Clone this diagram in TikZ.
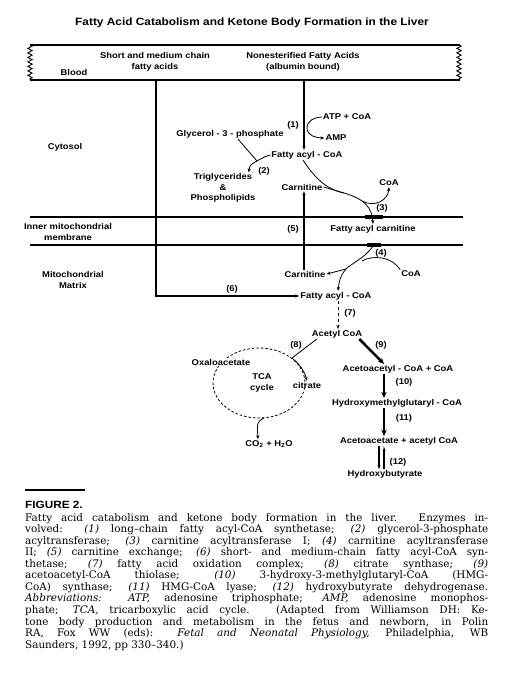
\documentclass[tikz,border=0pt]{standalone}
\usepackage{fontspec}
\setmainfont{DejaVu Serif}
\newfontfamily\lab{Liberation Sans}[FakeStretch=1.12]
\usetikzlibrary{arrows.meta,decorations.pathmorphing,calc}
\newcommand{\capline}[1]{\makebox[463pt][s]{#1}\\}
\begin{document}
\begin{tikzpicture}[x=1pt,y=-1pt,
  lbl/.style={font=\lab\bfseries\fontsize{8.4}{10.5}\selectfont, inner sep=1pt, align=center},
  titlefont/.style={font=\lab\bfseries\fontsize{10.6}{12}\selectfont, inner sep=0pt},
  band/.style={line width=1.2pt},
  mem/.style={line width=1.3pt},
  main/.style={line width=1.3pt},
  thinl/.style={line width=0.8pt},
  heavyl/.style={line width=2.6pt},
  arr/.style={-{Stealth[length=4pt,width=3.2pt]}},
  harr/.style={-{Stealth[length=6pt,width=5.5pt]}},
  wave/.style={line width=0.9pt, decorate, decoration={zigzag,segment length=4.5pt,amplitude=2.2pt}}]
\useasboundingbox (0,0) rectangle (513,694);
\fill[white] (0,0) rectangle (513,694);

\node[titlefont] (title) at (252,23) {Fatty Acid Catabolism and Ketone Body Formation in the Liver};

% blood band
\draw[band] (30,45) -- (460,45);
\draw[band] (30,80) -- (460,80);
\draw[wave] (30,45) -- (30,80);
\draw[wave] (459,45) -- (459,80);
\node[lbl] (blood) at (74,72) {Blood};
\node[lbl] (sm) at (155,62) {Short and medium chain\\fatty acids};
\node[lbl] (nefa) at (303,62) {Nonesterified Fatty Acids\\(albumin bound)};
\coordinate (smtop) at (156,80);
\coordinate (nefatop) at (304,80);

% cytosol
\node[lbl] (cyt) at (65,147) {Cytosol};
\node[lbl] (fa1) at (307,155) {Fatty acyl - CoA};
\draw[main,arr] (nefatop) -- (nefatop |- fa1.north);
\node[lbl] (n1) at (293,125) {(1)};
\node[lbl] (atp) at (347,117) {ATP + CoA};
\node[lbl] (amp) at (336,138) {AMP};
\draw[thinl,arr] (atp.west) to[out=180,in=90] (307,128) to[out=-90,in=180] (amp.west);

\node[lbl] (gly) at (230,134) {Glycerol - 3 - phosphate};
\node[lbl] (tri) at (223,188) {Triglycerides\\\&\\Phospholipids};
\coordinate (j2) at (257,161);
\draw[thinl] ([xshift=8pt]gly.south) -- (j2);
\draw[thinl,arr] (fa1.west) .. controls (264,157) .. (j2) .. controls (250,165) .. ([xshift=-8pt]tri.north east);
\node[lbl] (n2) at (264,171) {(2)};

\node[lbl] (carc) at (302,187) {Carnitine};
\node[lbl] (fac) at (373,229) {Fatty acyl carnitine};
\coordinate (j3a) at (344,193);
\coordinate (j3b) at (362,201);
\draw[thinl,arr] ([xshift=-4pt]fa1.south) .. controls (318,183) and (330,190) .. (j3a) .. controls (365,199) and (372,208) .. (fac.north);
\draw[thinl] (carc.east) -- (j3a);
\node[lbl] (coa3) at (389,183) {CoA};
\draw[thinl,arr] (j3b) .. controls (375,208) and (388,200) .. (coa3.south);
\node[lbl] (n3) at (382,208) {(3)};

% membranes
\draw[mem] (30,217) -- (463,217);
\draw[mem] (30,245) -- (463,245);
\draw[line width=3.2pt] (365,217) -- (383,217);
\draw[line width=3.2pt] (367,245) -- (381,245);
\node[lbl] (inner) at (68,232) {Inner mitochondrial\\membrane};
\node[lbl] (n5) at (293,229) {(5)};
\node[lbl] (carm) at (305,274) {Carnitine};
\draw[heavyl,arr] (carm.north -| nefatop) -- (nefatop |- carc.south);

% matrix
\node[lbl] (mito) at (73,280) {Mitochondrial\\Matrix};
\node[lbl] (fa2) at (336,296) {Fatty acyl - CoA};
\draw[main,arr] (smtop) |- (fa2.west);
\node[lbl] (n6) at (232,289) {(6)};
\coordinate (j4top) at (373,246);
\coordinate (j4) at (346,269);
\coordinate (j4b) at (362,261);
\draw[thinl,arr] (j4top) .. controls (365,258) and (352,263) .. (j4) .. controls (340,276) and (339,282) .. ([xshift=2pt]fa2.north);
\draw[thinl,arr] (j4) -- (carm.east);
\node[lbl] (coa4) at (411,274) {CoA};
\draw[thinl] (j4b) .. controls (372,255) and (392,256) .. (coa4.north west);
\node[lbl] (n4) at (381,253) {(4)};

\node[lbl] (acc) at (337,334) {Acetyl CoA};
\draw[thinl,dashed,arr] ([xshift=2pt]fa2.south) -- ([xshift=1pt]acc.north);
\node[lbl] (n7) at (350,313) {(7)};

% TCA cycle
\draw[thinl,dash pattern=on 2.5pt off 2pt] (259,383) ellipse [x radius=46, y radius=35];
\node[lbl,fill=white,inner sep=0.5pt] (oxa) at (221,362) {Oxaloacetate};
\node[lbl] (tca) at (262,383) {TCA\\cycle};
\node[lbl] (cit) at (307,385) {citrate};
\coordinate (j8) at (292,358);
\draw[thinl,arr] ([xshift=6pt]acc.south west) -- (j8) .. controls (300,365) and (304,370) .. (cit.north);
\node[lbl] (n8) at (296,345) {(8)};
\node[lbl] (co2) at (269,444) {CO\textsubscript{2} + H\textsubscript{2}O};
\coordinate (jc) at (264,418);
\draw[thinl,arr] (jc) .. controls (257,422) .. ([xshift=-11pt]co2.north);

% ketone body pathway
\node[lbl] (aca) at (398,369) {Acetoacetyl - CoA + CoA};
\draw[heavyl,harr] ([xshift=-4pt]acc.south east) -- ([xshift=-14pt]aca.north);
\node[lbl] (n9) at (381,345) {(9)};
\node[lbl] (hmg) at (397,403) {Hydroxymethylglutaryl - CoA};
\draw[heavyl,harr] ([xshift=-14pt]aca.south) -- ([xshift=-13pt]hmg.north);
\node[lbl] (n10) at (404,382) {(10)};
\node[lbl] (aac) at (399,441) {Acetoacetate + acetyl CoA};
\draw[heavyl,harr] ([xshift=-13pt]hmg.south) -- ([xshift=-15pt]aac.north);
\node[lbl] (n11) at (404,418) {(11)};
\node[lbl] (hb) at (385,474) {Hydroxybutyrate};
\draw[main,arr] ([xshift=-20pt]aac.south) -- ([xshift=-6pt]hb.north);
\draw[main,-{Stealth[harpoon,swap,length=4pt,width=3.2pt]}] ([xshift=-1pt]hb.north) -- ([xshift=-15pt]aac.south);
\node[lbl] (n12) at (398,462) {(12)};

% caption
\draw[line width=2pt] (25,490) -- (85,490);
\node[anchor=west, font=\lab\bfseries\fontsize{10.5}{12}\selectfont, inner sep=0pt] (fig) at (25,504.5) {FIGURE 2.};
\node[anchor=north west, inner sep=0pt, align=left,
      font=\fontsize{10.4}{11.55}\selectfont] (cap) at (25,513) {%
\capline{Fatty acid catabolism and ketone body formation in the liver. Enzymes in-}
\capline{volved: \textit{(1)} long–chain fatty acyl-CoA synthetase; \textit{(2)} glycerol-3-phosphate}
\capline{acyltransferase; \textit{(3)} carnitine acyltransferase I; \textit{(4)} carnitine acyltransferase}
\capline{II; \textit{(5)} carnitine exchange; \textit{(6)} short- and medium-chain fatty acyl-CoA syn-}
\capline{thetase; \textit{(7)} fatty acid oxidation complex; \textit{(8)} citrate synthase; \textit{(9)}}
\capline{acetoacetyl-CoA thiolase; \textit{(10)} 3-hydroxy-3-methylglutaryl-CoA (HMG-}
\capline{CoA) synthase; \textit{(11)} HMG-CoA lyase; \textit{(12)} hydroxybutyrate dehydrogenase.}
\capline{\textit{Abbreviations: ATP,} adenosine triphosphate; \textit{AMP,} adenosine monophos-}
\capline{phate; \textit{TCA,} tricarboxylic acid cycle. (Adapted from Williamson DH: Ke-}
\capline{tone body production and metabolism in the fetus and newborn, in Polin}
\capline{RA, Fox WW (eds): \textit{Fetal and Neonatal Physiology,} Philadelphia, WB}
Saunders, 1992, pp 330–340.)};
\end{tikzpicture}
\end{document}
